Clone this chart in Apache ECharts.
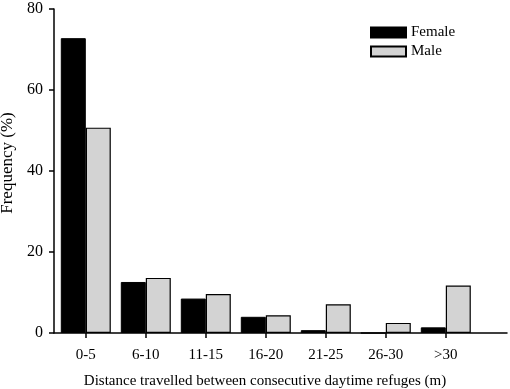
<!DOCTYPE html>
<html><head><meta charset="utf-8">
<script src="https://cdn.jsdelivr.net/npm/echarts@6/dist/echarts.min.js"></script>
<style>html,body{margin:0;padding:0;background:#fff}#c{width:510px;height:389px}</style>
</head><body><div id="c"></div>
<script>
const categories = ['0-5','6-10','11-15','16-20','21-25','26-30','>30'];
const female = [72.8, 12.6, 8.5, 4.0, 0.7, 0, 1.4];
const male = [50.7, 13.6, 9.6, 4.4, 7.1, 2.5, 11.7];
const yTicks = [0, 20, 40, 60, 80];

const font = 'Liberation Serif';
const chart = echarts.init(document.getElementById('c'));
const idx = categories.map((_, i) => i);
chart.setOption({
  animation: false,
  grid: {left: 54, right: 3, top: 9, bottom: 56, containLabel: false, outerBoundsMode: 'none'},
  legend: {
    data: ['Female', 'Male'], orient: 'vertical', left: 370, top: 25, padding: 0,
    itemWidth: 35, itemHeight: 10, itemGap: 4,
    textStyle: {fontFamily: font, fontSize: 15, color: '#000'},
    icon: 'rect'
  },
  xAxis: {
    type: 'value', min: -0.53, max: 7.02,
    splitLine: {show: false},
    axisLine: {lineStyle: {color: '#000', width: 1.5}},
    axisTick: {show: true, length: 5, lineStyle: {color: '#000', width: 1.5}, customValues: idx},
    axisLabel: {customValues: idx, formatter: v => categories[Math.round(v)], fontFamily: font, fontSize: 15, color: '#000', margin: 15},
    name: 'Distance travelled between consecutive daytime refuges (m)',
    nameLocation: 'middle', nameGap: 41,
    nameTextStyle: {fontFamily: font, fontSize: 15, color: '#000', padding: [0, 0, 0, -31]}
  },
  yAxis: {
    type: 'value', min: 0, max: 80, interval: 20,
    splitLine: {show: false},
    axisLine: {show: true, onZero: false, lineStyle: {color: '#000', width: 1.5}},
    axisTick: {show: true, length: 5, lineStyle: {color: '#000', width: 1.5}},
    axisLabel: {formatter: v => yTicks.includes(v) ? String(v) : '', fontFamily: font, fontSize: 16, color: '#000', margin: 11},
    name: 'Frequency (%)', nameLocation: 'middle', nameGap: 26,
    nameTextStyle: {fontFamily: font, fontSize: 17, color: '#000', padding: [0, 0, 0, 16]}
  },
  series: [
    {name: 'Female', type: 'bar', barWidth: 25, barGap: '0%',
     data: female.map((v, i) => [i, v]),
     itemStyle: {color: '#000', borderColor: '#000', borderWidth: 1}},
    {name: 'Male', type: 'bar', barWidth: 25, barGap: '0%',
     data: male.map((v, i) => [i, v]),
     itemStyle: {color: '#d3d3d3', borderColor: '#000', borderWidth: 1.2}}
  ]
});
</script></body></html>
